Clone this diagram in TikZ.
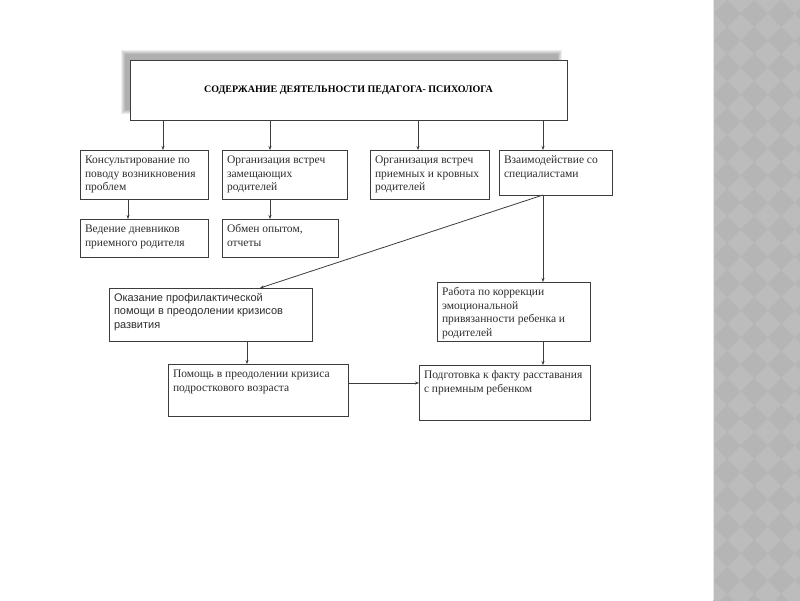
\documentclass[tikz,border=0pt]{standalone}
\usepackage{fontspec}
\setmainfont{Liberation Serif}
\newfontfamily\arialfont{Liberation Sans}
\usetikzlibrary{arrows.meta}
\definecolor{linegray}{RGB}{60, 60, 60}
\definecolor{textgray}{RGB}{45, 45, 45}
\definecolor{stripgray}{RGB}{188, 188, 188}
\definecolor{stripdark}{RGB}{181, 181, 181}
\newcommand{\cell}[3]{\parbox[c][\dimexpr#2pt-8pt\relax][t]{\dimexpr#1pt-10pt\relax}{\raggedright\strut #3}}

\begin{document}
\begin{tikzpicture}[x=1pt, y=-1pt,
    box/.style={rectangle, draw=linegray, line width=0.8pt, fill=white,
                anchor=north west, inner xsep=5pt, inner ysep=4pt,
                outer sep=0pt, text=textgray,
                font=\fontsize{11.5}{13.6}\selectfont},
    sansbox/.style={box, font=\arialfont\fontsize{11}{13.4}\selectfont},
    titlebox/.style={rectangle, draw=linegray, line width=0.8pt, fill=white,
                anchor=north west, minimum width=437pt, minimum height=60pt,
                outer sep=0pt, text=black,
                font=\fontsize{10}{12}\selectfont\bfseries},
    arr/.style={-{Stealth[length=4pt, width=3pt]}, line width=0.8pt,
                color=linegray}]
    \useasboundingbox (0,0) rectangle (800,600);

    % Page and side strip
    \fill[white] (0,0) rectangle (800,600);
    \fill[stripgray] (713,-5) rectangle (805,605);
    \begin{scope}
        \clip (713,-5) rectangle (805,605);
        \foreach \i in {0,...,4}
            \foreach \j in {0,...,23}
                \fill[stripdark] (700+27*\i, 27*\j) -- ++(13.5,13.5)
                    -- ++(-13.5,13.5) -- ++(-13.5,-13.5) -- cycle;
    \end{scope}
    \draw[white!80!gray] (713,0) -- (713,600);

    % Title shadow
    \foreach \k in {0,...,4}
        \fill[black, opacity=0.07] (121+\k, 50+\k) rectangle (562-\k, 114-\k);

    % Title
    \node[titlebox] (title) at (130,60)
        {\raisebox{-4pt}{СОДЕРЖАНИЕ ДЕЯТЕЛЬНОСТИ ПЕДАГОГА- ПСИХОЛОГА}};

    % First row
    \node[box] (konsult) at (80,150)
        {\cell{128}{49}{Консультирование по\\ поводу возникновения\\ проблем}};
    \node[box] (zamesh) at (222,150)
        {\cell{125}{49}{Организация встреч\\ замещающих\\ родителей}};
    \node[box] (krovn) at (370,150)
        {\cell{119}{49}{Организация встреч\\ приемных и кровных\\ родителей}};
    \node[box] (vzaim) at (499,150)
        {\cell{113}{45}{Взаимодействие со\\ специалистами}};

    % Second row
    \node[box] (dnevn) at (80,219)
        {\cell{128}{38}{Ведение дневников\\ приемного родителя}};
    \node[box] (obmen) at (222,219)
        {\cell{116}{38}{Обмен опытом,\\ отчеты}};

    % Lower part
    \node[sansbox] (okaz) at (109,288)
        {\cell{203}{53}{Оказание профилактической\\ помощи в преодолении кризисов\\ развития}};
    \node[box] (rabota) at (437,282)
        {\cell{153}{59}{Работа по коррекции\\ эмоциональной\\ привязанности ребенка и\\ родителей}};
    \node[box] (pomosh) at (168,364)
        {\cell{180}{52}{Помощь в преодолении кризиса\\ подросткового возраста}};
    \node[box] (podgot) at (419,365)
        {\cell{171}{55}{Подготовка к факту расставания\\ с приемным ребенком}};

    % Arrow columns
    \coordinate (c1) at (163,0);
    \coordinate (c2) at (270,0);
    \coordinate (c3) at (418,0);
    \coordinate (c4) at (543,0);
    \coordinate (c5) at (128,0);
    \coordinate (c6) at (260,0);
    \coordinate (c7) at (247,0);
    \coordinate (r1) at (0,383);

    % Title arrows
    \draw[arr] (title.south -| c1) -- (konsult.north -| c1);
    \draw[arr] (title.south -| c2) -- (zamesh.north -| c2);
    \draw[arr] (title.south -| c3) -- (krovn.north -| c3);
    \draw[arr] (title.south -| c4) -- (vzaim.north -| c4);

    % Row arrows
    \draw[arr] (konsult.south -| c5) -- (dnevn.north -| c5);
    \draw[arr] (zamesh.south -| c2) -- (obmen.north -| c2);

    % From specialists
    \draw[arr] (vzaim.south -| c4) -- (okaz.north -| c6);
    \draw[arr] (vzaim.south -| c4) -- (rabota.north -| c4);

    % Lower arrows
    \draw[arr] (okaz.south -| c7) -- (pomosh.north -| c7);
    \draw[arr] (rabota.south -| c4) -- (podgot.north -| c4);
    \draw[arr] (pomosh.east |- r1) -- (podgot.west |- r1);
\end{tikzpicture}
\end{document}
